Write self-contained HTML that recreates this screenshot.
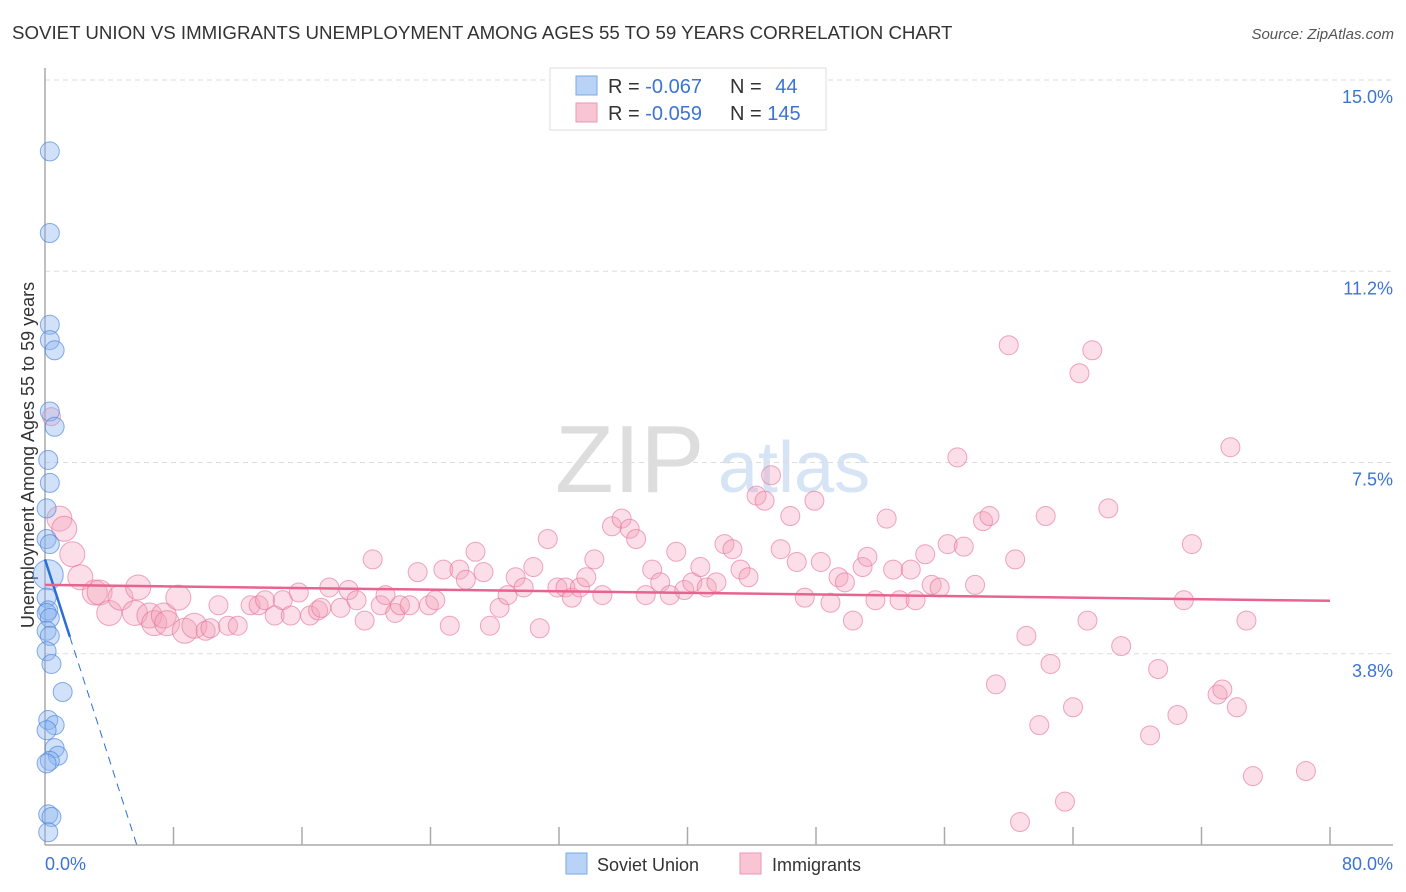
<!DOCTYPE html>
<html><head><meta charset="utf-8">
<style>
body{margin:0;background:#fff;font-family:"Liberation Sans",sans-serif;}
#wrap{position:relative;width:1406px;height:892px;overflow:hidden;}
svg text{font-family:"Liberation Sans",sans-serif;}
</style></head>
<body>
<div id="wrap">
<svg id="chart" width="1406" height="892">
  <text x="12" y="39" font-size="18.7" fill="#333">SOVIET UNION VS IMMIGRANTS UNEMPLOYMENT AMONG AGES 55 TO 59 YEARS CORRELATION CHART</text>
  <text x="1394" y="39" font-size="15" fill="#555" text-anchor="end" font-style="italic">Source: ZipAtlas.com</text>
  <text x="555" y="492" font-size="96" fill="#ddd" font-family="Liberation Serif">ZIP</text>
  <text x="718" y="492" font-size="72" fill="#d6e4f5">atlas</text>
  <text transform="translate(34,455) rotate(-90)" font-size="18" fill="#333" text-anchor="middle">Unemployment Among Ages 55 to 59 years</text>
  <g id="grid"></g>
  <g id="axes"></g>
  <g id="pinkpts"></g>
  <g id="bluepts"></g>
  <g id="trends"></g>
  <g>
    <rect x="550" y="68" width="276" height="62" fill="#fff" stroke="#ddd"/>
    <rect x="576" y="76" width="21" height="19" fill="#b8d3f5" stroke="#7aaae8"/>
    <rect x="576" y="103" width="21" height="19" fill="#f9c4d4" stroke="#ee97b3"/>
    <text x="608" y="93" font-size="20" fill="#333">R = <tspan fill="#3b74d4">-0.067</tspan></text>
    <text x="730" y="93" font-size="20" fill="#333">N = <tspan fill="#3b74d4" dx="8">44</tspan></text>
    <text x="608" y="120" font-size="20" fill="#333">R = <tspan fill="#3b74d4">-0.059</tspan></text>
    <text x="730" y="120" font-size="20" fill="#333">N = <tspan fill="#3b74d4">145</tspan></text>
  </g>
  <g>
    <rect x="566" y="853" width="21" height="21" fill="#b8d3f5" stroke="#7aaae8"/>
    <text x="597" y="871" font-size="18" fill="#333">Soviet Union</text>
    <rect x="740" y="853" width="21" height="21" fill="#f9c4d4" stroke="#ee97b3"/>
    <text x="772" y="871" font-size="18" fill="#333">Immigrants</text>
  </g>
</svg>
</div>
<script>
const yTicks=[3.75,7.5,11.25,15];
const yTickLabels=["3.8%","7.5%","11.2%","15.0%"];
const xTicks=[0,8,16,24,32,40,48,56,64,72,80];
const blueX=[0.3,0.3,0.3,0.3,0.6,0.3,0.6,0.2,0.3,0.1,0.1,0.3,0.2,0.1,0.2,0.1,0.3,0.1,0.3,0.1,0.4,1.1,0.2,0.6,0.1,0.6,0.8,0.3,0.1,0.2,0.4,0.2];
const blueY=[13.6,12,10.2,9.9,9.7,8.5,8.2,7.55,7.1,6.6,6.0,5.9,5.3,4.85,4.6,4.55,4.45,4.2,4.1,3.8,3.55,3.0,2.45,2.35,2.25,1.9,1.75,1.65,1.6,0.6,0.55,0.25];
const pinkX=[0.4,0.9,1.2,1.7,2.2,3.1,3.4,4.0,4.7,5.6,5.8,6.5,6.8,7.4,7.6,8.3,8.7,9.3,10,10.3,10.8,11.4,12,12.8,13.3,13.7,14.3,14.8,15.3,15.8,16.5,17,17.2,17.7,18.4,18.9,19.4,19.9,20.4,20.9,21.2,21.8,22.1,22.7,23.2,23.9,24.3,24.8,25.2,25.8,26.2,26.8,27.3,27.7,28.3,28.8,29.3,29.8,30.4,30.8,31.3,31.9,32.4,32.8,33.3,33.7,34.2,34.7,35.3,35.9,36.4,36.8,37.4,37.8,38.3,38.9,39.3,39.8,40.3,40.8,41.2,41.8,42.3,42.8,43.3,43.8,44.3,44.8,45.2,45.8,46.4,46.8,47.3,47.9,48.3,48.9,49.4,49.8,50.3,50.9,51.2,51.7,52.4,52.8,53.2,53.9,54.2,54.8,55.2,55.7,56.2,56.8,57.2,57.9,58.4,58.8,59.2,60,60.4,60.7,61.1,61.9,62.3,62.6,63.5,64,64.4,64.9,65.2,66.2,67,68.8,69.3,70.5,70.9,71.4,73,73.3,73.8,74.2,74.8,75.2,78.5];
const pinkY=[8.4,6.4,6.2,5.7,5.25,4.95,4.95,4.55,4.85,4.55,5.05,4.5,4.35,4.5,4.35,4.85,4.2,4.3,4.2,4.25,4.7,4.3,4.3,4.7,4.7,4.8,4.5,4.8,4.5,4.95,4.5,4.6,4.65,5.05,4.65,5.0,4.8,4.4,5.6,4.7,4.9,4.55,4.7,4.7,5.35,4.7,4.8,5.4,4.3,5.4,5.2,5.75,5.35,4.3,4.65,4.9,5.25,5.05,5.45,4.25,6.0,5.05,5.05,4.85,5.05,5.25,5.6,4.9,6.25,6.4,6.2,6.0,4.9,5.4,5.15,4.9,5.75,5.0,5.15,5.45,5.05,5.15,5.9,5.8,5.4,5.25,6.85,6.75,7.25,5.8,6.45,5.55,4.85,6.75,5.55,4.75,5.25,5.15,4.4,5.45,5.65,4.8,6.4,5.4,4.8,5.4,4.8,5.7,5.1,5.05,5.9,7.6,5.85,5.1,6.35,6.45,3.15,9.8,5.6,0.45,4.1,2.35,6.45,3.55,0.85,2.7,9.25,4.4,9.7,6.6,3.9,2.15,3.45,2.55,4.8,5.9,2.95,3.05,7.8,2.7,4.4,1.35,1.45];
const blueTrend=[5.6,-0.98];   // intercept %, slope per % (x)
const pinkTrend=[5.1,-0.0039];

const X0=45,X1=1330,Y0=845,YTOP=80;
const sx=v=>X0+v*(X1-X0)/80;
const sy=v=>Y0-v*(Y0-YTOP)/15;
const NS="http://www.w3.org/2000/svg";
function mk(tag,attrs,parent){const e=document.createElementNS(NS,tag);for(const k in attrs)e.setAttribute(k,attrs[k]);parent.appendChild(e);return e;}
const grid=document.getElementById('grid');
yTicks.forEach((t,i)=>{
  const l=mk('line',{x1:X0,x2:1393,y1:sy(t),y2:sy(t),stroke:'#ddd','stroke-dasharray':'5,4'},grid);
  
  
  const tx=mk('text',{x:1393,y:sy(t)+23,'font-size':18,fill:'#3b74d4','text-anchor':'end'},grid);
  tx.textContent=yTickLabels[i];
  
  
});
const axes=document.getElementById('axes');
mk('line',{x1:X0,x2:X0,y1:68,y2:Y0,stroke:'#aaa','stroke-width':1.5},axes);
mk('line',{x1:X0,x2:1393,y1:Y0,y2:Y0,stroke:'#aaa','stroke-width':1.5},axes);
xTicks.slice(1).forEach(t=>{
  const l=mk('line',{x1:sx(t),x2:sx(t),y1:Y0,y2:Y0-18,stroke:'#aaa','stroke-width':1.5},axes);
  
  
});
let t0=mk('text',{x:45,y:870,'font-size':18,fill:'#3b74d4'},axes);t0.textContent='0.0%';


let t1=mk('text',{x:1393,y:870,'font-size':18,fill:'#3b74d4','text-anchor':'end'},axes);t1.textContent='80.0%';



const pg=document.getElementById('pinkpts');
pinkX.forEach((x,i)=>{
  const r=i===0?9:(x<10?12.5:9.5);
  const c=mk('circle',{cx:sx(x),cy:sy(pinkY[i]),r:r,fill:'rgba(244,160,185,0.35)',stroke:'rgba(230,110,150,0.6)','stroke-width':1},pg);
  
  
});
const bg=document.getElementById('bluepts');
blueX.forEach((x,i)=>{
  const r=(i===12)?15:9.5;
  const c=mk('circle',{cx:sx(x),cy:sy(blueY[i]),r:r,fill:'rgba(140,180,240,0.4)',stroke:'rgba(70,130,220,0.65)','stroke-width':1},bg);
  
  
});
const tg=document.getElementById('trends');
const by=x=>blueTrend[0]+blueTrend[1]*x;
const bx1=1.55, bxEnd=-blueTrend[0]/blueTrend[1];
let l1=mk('line',{x1:sx(0),y1:sy(by(0)),x2:sx(bx1),y2:sy(by(bx1)),stroke:'#2a6fd6','stroke-width':2.5},tg);


let l2=mk('line',{x1:sx(bx1),y1:sy(by(bx1)),x2:sx(bxEnd),y2:sy(0),stroke:'#2a6fd6','stroke-width':1,'stroke-dasharray':'8,6'},tg);


let l3=mk('line',{x1:sx(0),y1:sy(pinkTrend[0]),x2:sx(80),y2:sy(pinkTrend[0]+pinkTrend[1]*80),stroke:'#e8638f','stroke-width':2.5},tg);


</script>
</body></html>
